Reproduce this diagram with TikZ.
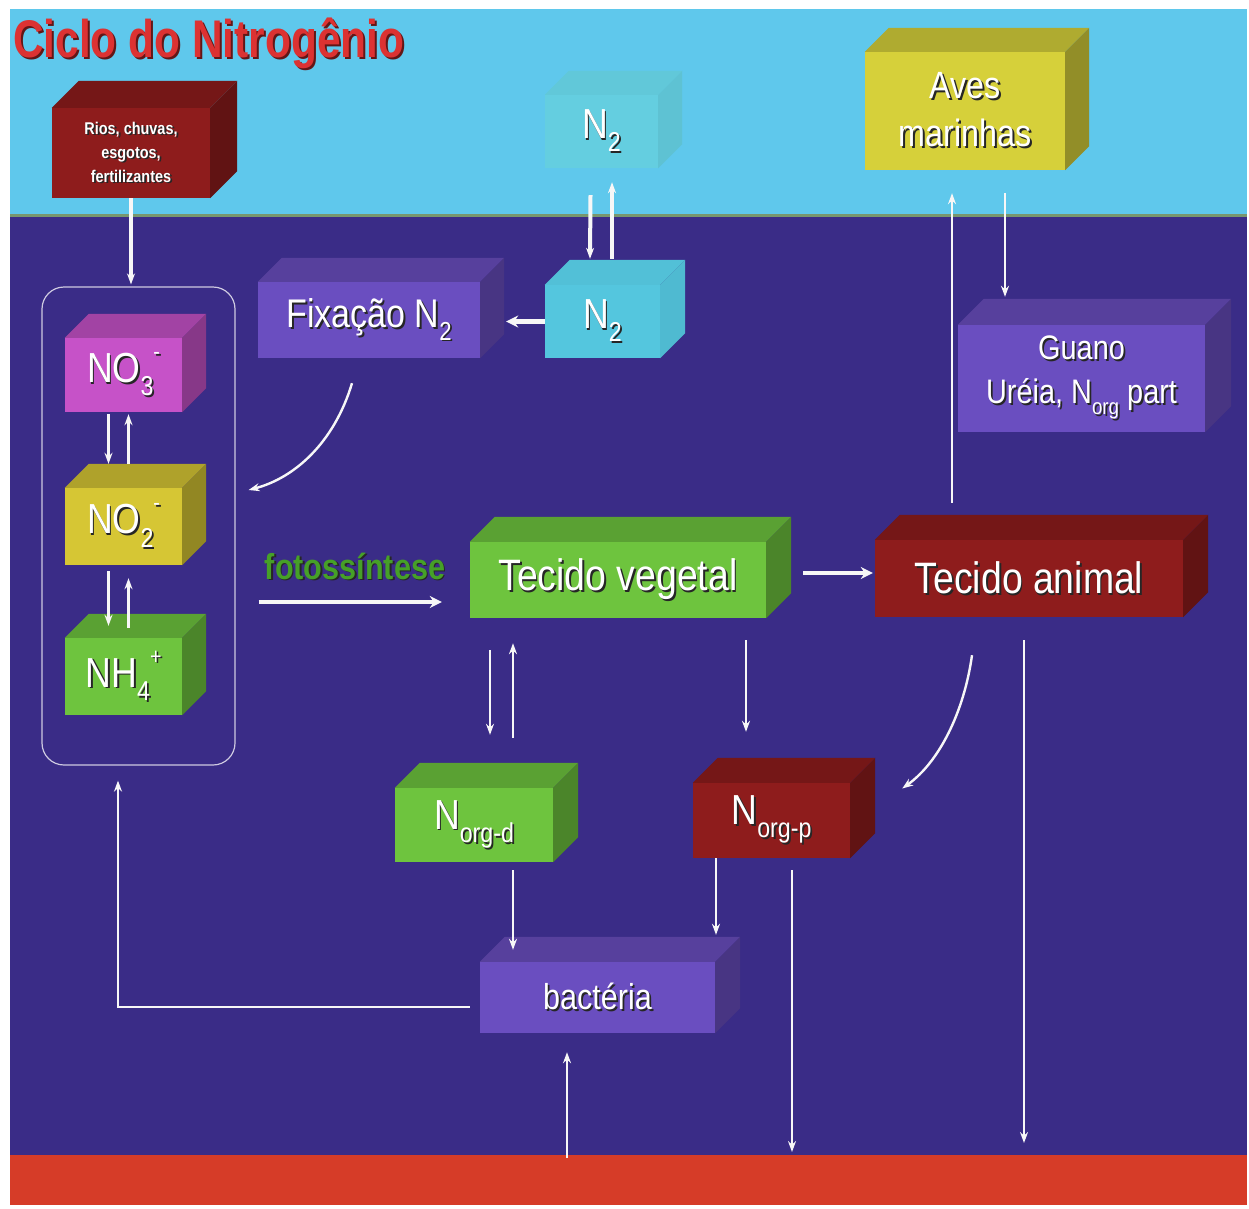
\documentclass[tikz,border=0pt]{standalone}
\usepackage{fontspec}
\usepackage{graphicx}
\usetikzlibrary{arrows.meta,calc}
\newfontfamily\lab[FakeStretch=0.85]{Liberation Sans}
\newfontfamily\ttl[FakeStretch=0.8]{Liberation Sans}
\definecolor{sky}{RGB}{95,200,236}
\definecolor{ocean}{RGB}{58,44,135}
\definecolor{sedc}{RGB}{214,60,40}
\definecolor{dred}{RGB}{142,28,28}
\definecolor{mag}{RGB}{198,82,200}
\definecolor{yel}{RGB}{214,198,52}
\definecolor{grn}{RGB}{110,196,62}
\definecolor{cyanb}{RGB}{84,198,222}
\definecolor{purp}{RGB}{106,78,192}
\definecolor{avesc}{RGB}{214,208,58}
\definecolor{faintn}{RGB}{100,206,224}
\definecolor{titlered}{RGB}{220,50,50}
\definecolor{fgreen}{RGB}{70,160,40}
\definecolor{olive}{RGB}{120,150,110}
\newcommand\sh[1]{\leavevmode\rlap{\kern1.8pt\raisebox{-1.8pt}{\color{black!85}#1}}#1}
\newcommand\shc[2]{\leavevmode\rlap{\kern2pt\raisebox{-2pt}{\color{#1}#2}}#2}
\newcommand\sbs[1]{\raisebox{-0.32em}{\scalebox{0.65}{#1}}}
\newcommand\sps[1]{\raisebox{0.55em}{\scalebox{0.55}{#1}}}
\def\tsh{82}\def\ssh{68}
\tikzset{
  cubefront/.style={inner sep=0pt, text=white, align=center},
  arr/.style={draw=white!94!gray, line width=2.4pt, -{Stealth[length=11pt,width=8pt]}},
  arrthick/.style={arr, line width=4.5pt, -{Stealth[length=12pt,width=12pt]}},
}
% name, cx, cy, w, h, depth, colour, font, text
\newcommand\cubebox[9]{%
  \node[cubefront, fill=#7, minimum width=#4pt, minimum height=#5pt, font=#8] (#1) at (#2,#3) {#9};
  \fill[#7!\tsh!black] (#1.north west) -- ++(#6,-#6) -- ($(#1.north east)+(#6,-#6)$) -- (#1.north east) -- cycle;
  \fill[#7!\ssh!black] (#1.north east) -- ++(#6,-#6) -- ($(#1.south east)+(#6,-#6)$) -- (#1.south east) -- cycle;
}
\begin{document}
\begin{tikzpicture}[x=1pt,y=-1pt]
\useasboundingbox (0,0) rectangle (1249,1208);
\fill[white] (0,0) rectangle (1249,1208);
% backgrounds
\fill[sky] (10,9) rectangle (1247,215);
\fill[ocean] (10,215) rectangle (1247,1155);
\draw[olive, line width=3pt] (10,215) -- (1247,215);
\node[fill=sedc, inner sep=0pt, minimum width=1237pt, minimum height=50pt, anchor=north west] (sed) at (10,1155) {};

% title
\node[anchor=west, inner sep=0pt, text=titlered, font=\ttl\bfseries\fontsize{53}{56}\selectfont] (title) at (13,44) {\shc{black!55!titlered}{Ciclo do Nitrogênio}};

% pool of inorganic nitrogen
\node[draw=white!75!ocean, line width=1.2pt, rounded corners=22pt, minimum width=193pt, minimum height=478pt, inner sep=0pt] (pool) at (138.5,526) {};

% boxes
\cubebox{rios}{131}{153}{158}{90}{27}{dred}{\lab\bfseries\fontsize{17}{24}\selectfont}{\sh{Rios, chuvas,}\\\sh{esgotos,}\\\sh{fertilizantes}}
\def\tsh{97}\def\ssh{94}
\cubebox{n2a}{601.5}{131.5}{113}{73}{24}{faintn}{\lab\fontsize{42}{46}\selectfont}{\sh{N\sbs{2}}}
\cubebox{n2b}{602.5}{321.5}{115}{73}{25}{cyanb}{\lab\fontsize{42}{46}\selectfont}{\sh{N\sbs{2}}}
\def\tsh{82}\def\ssh{68}
\cubebox{fix}{369}{320}{222}{76}{24}{purp}{\lab\fontsize{40}{44}\selectfont}{\sh{Fixação N\sbs{2}}}
\cubebox{aves}{965}{111}{200}{118}{24}{avesc}{\lab\fontsize{38}{48}\selectfont}{\sh{Aves}\\\sh{marinhas}}
\cubebox{guano}{1081.5}{378.5}{247}{107}{26}{purp}{\lab\fontsize{34}{44}\selectfont}{\sh{Guano}\\\sh{Uréia, N\sbs{org} part}}
\cubebox{no3}{123.5}{375}{117}{74}{24}{mag}{\lab\fontsize{42}{46}\selectfont}{\sh{NO\sbs{3}\sps{-}}}
\cubebox{no2}{123.5}{526.5}{117}{77}{24}{yel}{\lab\fontsize{42}{46}\selectfont}{\sh{NO\sbs{2}\sps{-}}}
\cubebox{nh4}{123.5}{676.5}{117}{77}{24}{grn}{\lab\fontsize{42}{46}\selectfont}{\sh{NH\sbs{4}\sps{+}}}
\cubebox{veg}{618}{580}{296}{76}{25}{grn}{\lab\fontsize{44}{48}\selectfont}{\sh{Tecido vegetal}}
\cubebox{ani}{1029}{578.5}{308}{77}{25}{dred}{\lab\fontsize{44}{48}\selectfont}{\sh{Tecido animal}}
\cubebox{norgd}{474}{825}{158}{74}{25}{grn}{\lab\fontsize{42}{46}\selectfont}{\sh{N\sbs{org-d}}}
\cubebox{norgp}{771.5}{820.5}{157}{75}{25}{dred}{\lab\fontsize{42}{46}\selectfont}{\sh{N\sbs{org-p}}}
\cubebox{bact}{597.5}{997.5}{235}{71}{25}{purp}{\lab\fontsize{36}{40}\selectfont}{\sh{bactéria}}

% fotossintese label
\node[inner sep=0pt, text=fgreen, font=\lab\bfseries\fontsize{36}{40}\selectfont] (foto) at (355,567) {\sh{fotossíntese}};

% connectors
\draw[arr, line width=3.5pt] (rios.south) -- ($(rios.south |- pool.north)+(0,-2)$);
\draw[arr, line width=4pt] ($(n2a.south)+(-11,27)$) -- ($(n2b.north)+(-12.5,-26)$);
\draw[arr, line width=4pt] ($(n2b.north)+(9.5,-26)$) -- ($(n2a.south)+(10.5,14)$);
\draw[arrthick, line width=5.5pt] (n2b.west) -- ($(fix.east)+(26,1.5)$);
\draw[arr] ($(fix.south)+(-17,25)$) .. controls ($(fix.south)+(-35,85)$) and ($(fix.south)+(-75,120)$) .. ($(pool.east)+(13,-36)$);
\draw[arr, line width=3pt] ($(no3.south)+(-15,2)$) -- ($(no2.north)+(-15,-24)$);
\draw[arr, line width=3pt] ($(no2.north)+(5,-24)$) -- ($(no3.south)+(5,2)$);
\draw[arr, line width=3pt] ($(no2.south)+(-15,6)$) -- ($(nh4.north)+(-15,-12)$);
\draw[arr, line width=3pt] ($(nh4.north)+(5,-10)$) -- ($(no2.south)+(5,13)$);
\draw[arrthick] ($(pool.east)+(23,76)$) -- ($(veg.west)+(-28,22)$);
\draw[arrthick] ($(veg.east)+(37,-7)$) -- ($(ani.west)+(-2,-5.5)$);
\draw[arr] ($(veg.south)+(-128,32)$) -- ($(norgd.north)+(16,-53)$);
\draw[arr] ($(norgd.north)+(39,-50)$) -- ($(veg.south)+(-105,25)$);
\draw[arr] ($(veg.south)+(128,22)$) -- ($(norgp.north)+(-25.5,-51)$);
\draw[arr] ($(ani.south)+(-57,38)$) .. controls ($(ani.south)+(-65,95)$) and ($(ani.south)+(-90,145)$) .. ($(norgp.east)+(52,-32)$);
\draw[arr] ($(ani.north)+(-77,-37)$) -- ($(aves.south)+(-13,23)$);
\draw[arr] ($(aves.south)+(40,23)$) -- ($(guano.north)+(-76.5,-28)$);
\draw[arr] ($(ani.south)+(-5,23)$) -- ($(ani.south |- sed.north)+(-5,-12)$);
\draw[arr] ($(norgd.south)+(39,8)$) -- ($(bact.north)+(-84.5,-12)$);
\draw[arr] ($(norgp.south)+(-55.5,0)$) -- ($(bact.north)+(118.5,-27)$);
\draw[arr] ($(norgp.south)+(20.5,12)$) -- ($(norgp.south |- sed.north)+(20.5,-3)$);
\draw[arr] ($(bact.south |- sed.north)+(-30.5,3)$) -- ($(bact.south)+(-30.5,19)$);
\draw[arr] ($(bact.west)+(-10,9.5)$) -| ($(pool.south)+(-20.5,15)$);
\end{tikzpicture}
\end{document}
